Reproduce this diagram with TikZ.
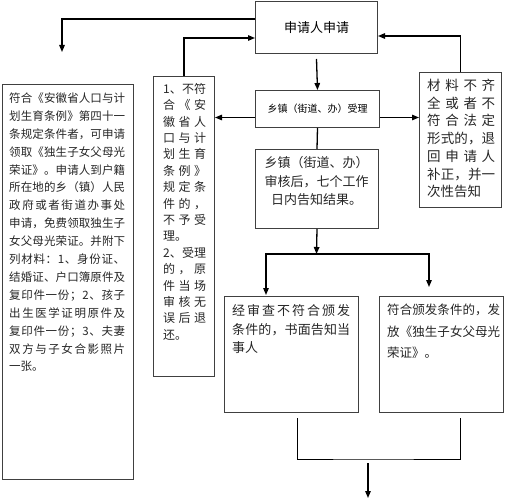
\documentclass[tikz,border=0pt]{standalone}
\usepackage{fontspec}
\setmainfont{Noto Sans CJK SC}
\usetikzlibrary{arrows.meta}

\tikzset{
  box/.style={draw=black!75, line width=1pt, inner sep=0pt, anchor=north west},
  txt/.style={inner sep=0pt, text=black!85, align=left, anchor=north west},
  flow/.style={line width=1.3pt, -{Triangle[length=7pt,width=5.5pt]}},
  link/.style={line width=0.8pt},
}

% spread the characters of one line over a given width
\def\jsp#1#2{#1\ifx\relax#2\else\hfill\expandafter\jsp\expandafter#2\fi}
\newcommand\jl[2]{\hbox to #1{\jsp#2\relax}}

\begin{document}
\begin{tikzpicture}[x=1pt,y=-1pt]
        \useasboundingbox (0,0) rectangle (512,500);

        % boxes
        \node[box, minimum width=122pt, minimum height=52pt, font=\fontsize{13}{15}\selectfont] (apply) at (255,1) {申请人申请};
        \node[box, minimum width=124pt, minimum height=37pt, font=\fontsize{10}{12}\selectfont] (accept) at (255,90) {乡镇（街道、办）受理};
        \node[box, minimum width=123pt, minimum height=79pt] (review) at (255,149) {};
        \node[box, minimum width=82pt, minimum height=135pt] (defect) at (419,72) {};
        \node[box, minimum width=131pt, minimum height=395pt] (accord) at (2,84) {};
        \node[box, minimum width=61pt, minimum height=300pt] (reject) at (153,76) {};
        \node[box, minimum width=134pt, minimum height=116pt] (bad) at (224,296) {};
        \node[box, minimum width=124pt, minimum height=116pt] (good) at (379,296) {};

        % texts
        \node[txt, anchor=north, align=center, font=\fontsize{13}{18.5}\selectfont] (reviewtxt) at (316.5,156.5) {%
          乡镇（街道、办）\\审核后，七个工作\\日内告知结果。};

        \node[txt, font=\fontsize{13.5}{17.7}\selectfont] (defecttxt) at (427,79) {%
          \jl{68pt}{材料不齐}\\
          \jl{68pt}{全或者不}\\
          \jl{68pt}{符合法定}\\
          \jl{68pt}{形式的，退}\\
          \jl{68pt}{回申请人}\\
          \jl{68pt}{补正，并一}\\
          次性告知};

        \node[txt, font=\fontsize{11.5}{17.9}\selectfont] (accordtxt) at (9,92.5) {%
          \jl{116pt}{符合《安徽省人口与计}\\
          \jl{116pt}{划生育条例》第四十一}\\
          \jl{116pt}{条规定条件者，可申请}\\
          \jl{116pt}{领取《独生子女父母光}\\
          \jl{116pt}{荣证》。申请人到户籍}\\
          \jl{116pt}{所在地的乡（镇）人民}\\
          \jl{116pt}{政府或者街道办事处}\\
          \jl{116pt}{申请，免费领取独生子}\\
          \jl{116pt}{女父母光荣证。并附下}\\
          \jl{116pt}{列材料：1、身份证、}\\
          \jl{116pt}{结婚证、户口簿原件及}\\
          \jl{116pt}{复印件一份；2、孩子}\\
          \jl{116pt}{出生医学证明原件及}\\
          \jl{116pt}{复印件一份；3、夫妻}\\
          \jl{116pt}{双方与子女合影照片}\\
          一张。};

        \node[txt, font=\fontsize{12}{16.4}\selectfont] (rejecttxt) at (163,83) {%
          \jl{43pt}{1、不符}\\
          \jl{43pt}{合《安}\\
          \jl{43pt}{徽省人}\\
          \jl{43pt}{口与计}\\
          \jl{43pt}{划生育}\\
          \jl{43pt}{条例》}\\
          \jl{43pt}{规定条}\\
          \jl{43pt}{件的，}\\
          \jl{43pt}{不予受}\\
          理。\\
          \jl{43pt}{2、受理}\\
          \jl{43pt}{的，原}\\
          \jl{43pt}{件当场}\\
          \jl{43pt}{审核无}\\
          \jl{43pt}{误后退}\\
          还。};

        \node[txt, font=\fontsize{13}{18.5}\selectfont] (badtxt) at (232,304.5) {%
          \jl{118pt}{经审查不符合颁发}\\
          \jl{118pt}{条件的，书面告知当}\\
          事人};

        \node[txt, font=\fontsize{12.5}{21.5}\selectfont] (goodtxt) at (387,304) {%
          \jl{113pt}{符合颁发条件的，发}\\
          \jl{113pt}{放《独生子女父母光}\\
          荣证》。};

        % connectors
        \coordinate (lefttip) at (62,52);
        \coordinate (acc) at ([yshift=-8.5pt]accept.center);
        \coordinate (split) at (316.5,254);
        \coordinate (badin) at (266,295);
        \coordinate (goodin) at (429,287);
        \coordinate (merge) at (368,459);
        \coordinate (endtip) at (368,498);

        \draw[flow] ([yshift=8.5pt]apply.west) -| (lefttip);
        \draw[flow] (reject.north) |- ([yshift=-10.5pt]apply.west);
        \draw[flow] (defect.north) |- ([yshift=-8.5pt]apply.east);
        \draw[flow] ([yshift=-5pt]apply.south) -- (accept.north);
        \draw[flow] (acc -| accept.west) -- (acc -| reject.east);
        \draw[flow] (acc -| accept.east) -- (acc -| defect.west);
        \draw[line width=1.3pt] (accept.south) -- (review.north);
        \draw[flow] (review.south) -- (split);
        \draw[flow] (split) -| (badin);
        \draw[flow] (split) -| (goodin);
        \draw[link] ([shift={(6pt,-5pt)}]bad.south) |- (merge) -| ([shift={(19pt,-5pt)}]good.south);
        \draw[flow] ([yshift=-4pt]merge) -- (endtip);
\end{tikzpicture}
\end{document}
